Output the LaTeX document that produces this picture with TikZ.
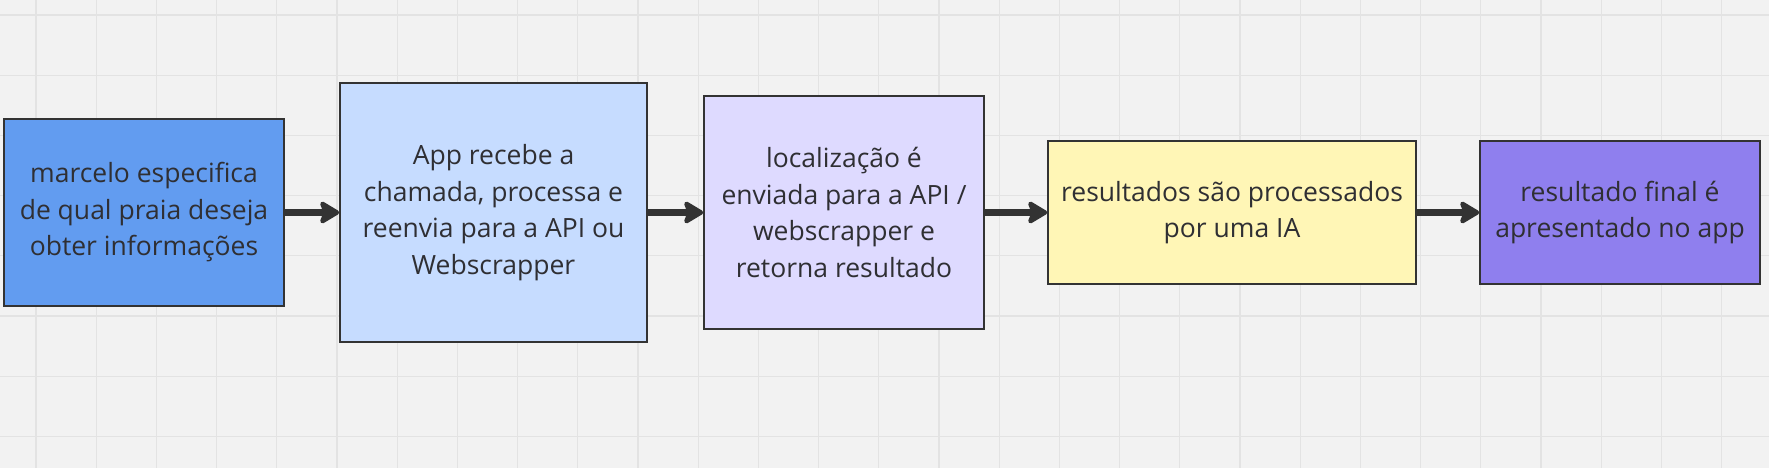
\documentclass[tikz,border=0pt]{standalone}
\usepackage{fontspec}
\setmainfont{Open Sans}
\usetikzlibrary{arrows.meta}
\definecolor{bg}{HTML}{F2F2F2}
\definecolor{gridc}{HTML}{E3E3E3}
\definecolor{ink}{HTML}{333333}
\definecolor{txt}{HTML}{2F2F33}
\definecolor{cA}{HTML}{629CF0}
\definecolor{cB}{HTML}{C6DCFF}
\definecolor{cC}{HTML}{DEDAFF}
\definecolor{cD}{HTML}{FFF6B6}
\definecolor{cE}{HTML}{8F7FEE}
\tikzset{
  stepbox/.style={draw=ink, line width=1.6pt, inner sep=0pt, align=center,
    text=txt, font=\fontsize{26.5}{36.5}\selectfont},
  flowarrow/.style={draw=ink, line width=6.5pt,
    -{Stealth[length=23pt, width=27pt, inset=5pt, round]}},
}
\begin{document}
\begin{tikzpicture}[x=1pt, y=-1pt]
\fill[bg] (0,0) rectangle (1769,468);
\useasboundingbox (0,0) rectangle (1769,468);
\foreach \k in {0,...,28} {\draw[gridc, line width=1.2pt] ({36+60.2*\k},0) -- ({36+60.2*\k},468);}
\foreach \k in {0,...,7} {\draw[gridc, line width=1.2pt] (0,{15+60.2*\k}) -- (1769,{15+60.2*\k});}

\node[stepbox, fill=cA, minimum width=280pt, minimum height=187pt] (b1) at (144,212.5)
  {marcelo especifica\\de qual praia deseja\\obter informações};
\node[stepbox, fill=cB, minimum width=307pt, minimum height=259pt] (b2) at (493.5,212.5)
  {App recebe a\\chamada, processa e\\reenvia para a API ou\\Webscrapper};
\node[stepbox, fill=cC, minimum width=280pt, minimum height=233pt] (b3) at (844,212.5)
  {localização é\\enviada para a API /\\webscrapper e\\retorna resultado};
\node[stepbox, fill=cD, minimum width=368pt, minimum height=143pt] (b4) at (1232,212.5)
  {resultados são processados\\por uma IA};
\node[stepbox, fill=cE, minimum width=280pt, minimum height=143pt] (b5) at (1620,212.5)
  {resultado final é\\apresentado no app};

\draw[flowarrow] (b1.east) -- (b2.west);
\draw[flowarrow] (b2.east) -- (b3.west);
\draw[flowarrow] (b3.east) -- (b4.west);
\draw[flowarrow] (b4.east) -- (b5.west);
\end{tikzpicture}
\end{document}
